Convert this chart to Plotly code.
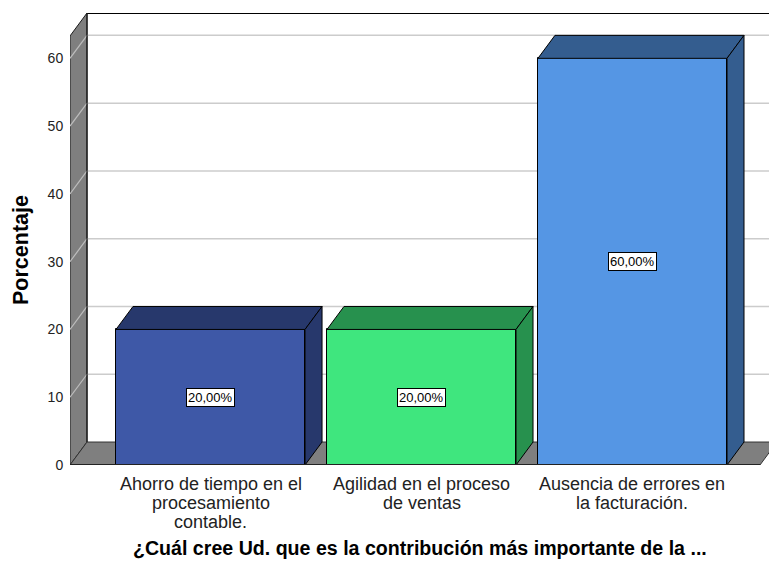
import plotly.graph_objects as go

# ---- data ----
categories = [
    ["Ahorro de tiempo en el", "procesamiento", "contable."],
    ["Agilidad en el proceso", "de ventas"],
    ["Ausencia de errores en", "la facturación."],
]
values = [20.0, 20.0, 60.0]
value_labels = ["20,00%", "20,00%", "60,00%"]
y_ticks = [0, 10, 20, 30, 40, 50, 60]
x_title = "¿Cuál cree Ud. que es la contribución más importante de la ..."
y_title = "Porcentaje"

front_colors = ["#3E58A7", "#3FE67E", "#5596E4"]
side_colors = ["#27386C", "#27914E", "#345D8F"]

# ---- frame geometry (axis units) ----
X0, X1 = -0.666, 2.685          # x axis range
WALL_TOP = 63.3                 # height of walls (front plane)
DX, DY = 0.0806, 3.39           # depth offset of the back plane
Y1 = WALL_TOP + DY              # y axis range top
BAR_W = 0.896
FLOOR_R = X1 - DX
FONT = "Liberation Sans, Arial, sans-serif"

# page body has an 8px margin
OFF = 8
ML, MT, PW, PH = 70 - OFF, 13 - OFF, 707, 452
W, H = 777 - OFF, 585 - OFF
MB = H - MT - PH

def px_to_paper_x(px):
    return (px - 70) / PW

def px_to_paper_y(py):
    return (465 - py) / PH

xs = list(range(len(values)))

fig = go.Figure()

shapes = []
shapes.append(dict(type="path", layer="below",
                   path=f"M{X0},0 L{X0},{WALL_TOP} L{X0+DX},{WALL_TOP+DY} L{X0+DX},{DY} Z",
                   fillcolor="#7F7F7F", line=dict(color="#1a1a1a", width=1)))
shapes.append(dict(type="path", layer="below",
                   path=f"M{X0},0 L{FLOOR_R},0 L{FLOOR_R+DX},{DY} L{X0+DX},{DY} Z",
                   fillcolor="#7F7F7F", line=dict(color="#333333", width=1)))
for t in y_ticks[1:]:
    shapes.append(dict(type="line", layer="below", x0=X0 + DX, x1=X1, y0=t + DY, y1=t + DY,
                       line=dict(color="#CCCCCC", width=1.5)))
    shapes.append(dict(type="line", layer="below", x0=X0, x1=X0 + DX, y0=t, y1=t + DY,
                       line=dict(color="#BDBDBD", width=1.2)))
shapes.append(dict(type="line", layer="below", x0=X0 + DX, x1=X1, y0=Y1 - 0.05, y1=Y1 - 0.05,
                   line=dict(color="#000000", width=1.5)))
shapes.append(dict(type="line", layer="below", x0=X0 + DX, x1=X0 + DX, y0=DY, y1=WALL_TOP + DY,
                   line=dict(color="#1a1a1a", width=1.2)))
shapes.append(dict(type="line", layer="above", x0=X0, x1=FLOOR_R, y0=0, y1=0,
                   line=dict(color="#222222", width=2)))

fig.add_trace(go.Bar(x=xs, y=values, width=BAR_W,
                     marker=dict(color=front_colors, line=dict(color="#000000", width=1)),
                     hoverinfo="skip", showlegend=False))

for i, v in enumerate(values):
    l, r = xs[i] - BAR_W / 2, xs[i] + BAR_W / 2
    fig.add_trace(go.Scatter(
        x=[l, r, r + DX, l + DX, l], y=[v, v, v + DY, v + DY, v],
        fill="toself", fillcolor=side_colors[i], mode="lines",
        line=dict(color="#000000", width=1), hoverinfo="skip", showlegend=False))
    fig.add_trace(go.Scatter(
        x=[r, r, r + DX, r + DX, r], y=[0, v, v + DY, DY, 0],
        fill="toself", fillcolor=side_colors[i], mode="lines",
        line=dict(color="#000000", width=1), hoverinfo="skip", showlegend=False))

annotations = []
for i, v in enumerate(values):
    annotations.append(dict(x=xs[i], y=v / 2, xref="x", yref="y", text=value_labels[i],
                            showarrow=False, bgcolor="#FFFFFF", bordercolor="#000000",
                            borderwidth=1, borderpad=1,
                            font=dict(family=FONT, size=13, color="#000000")))
for i, lines in enumerate(categories):
    for j, line in enumerate(lines):
        annotations.append(dict(x=xs[i], y=0, xref="x", yref="paper", text=line,
                                showarrow=False, yanchor="middle", yshift=-(19 + 19 * j),
                                font=dict(family=FONT, size=18, color="#222222")))
annotations.append(dict(x=px_to_paper_x(420), y=px_to_paper_y(548), xref="paper", yref="paper",
                        text=f"<b>{x_title}</b>", showarrow=False, yanchor="middle",
                        font=dict(family=FONT, size=19.6, color="#000000")))
annotations.append(dict(x=px_to_paper_x(21), y=px_to_paper_y(250), xref="paper", yref="paper",
                        text=f"<b>{y_title}</b>", showarrow=False, textangle=-90,
                        xanchor="center", yanchor="middle",
                        font=dict(family=FONT, size=21.5, color="#000000")))

fig.update_layout(
    width=W, height=H,
    margin=dict(l=ML, r=0, t=MT, b=MB, pad=0),
    paper_bgcolor="#FFFFFF", plot_bgcolor="#FFFFFF",
    shapes=shapes, annotations=annotations,
    xaxis=dict(range=[X0, X1], showgrid=False, zeroline=False, showline=False,
               showticklabels=False, ticks="", fixedrange=True),
    yaxis=dict(range=[0, Y1], showgrid=False, zeroline=False, showline=False,
               tickvals=y_ticks, ticktext=[str(t) for t in y_ticks],
               ticks="outside", ticklen=3, tickcolor="rgba(0,0,0,0)",
               tickfont=dict(family=FONT, size=14, color="#222222"), fixedrange=True),
    bargap=0,
)

fig.write_html("out.html")
